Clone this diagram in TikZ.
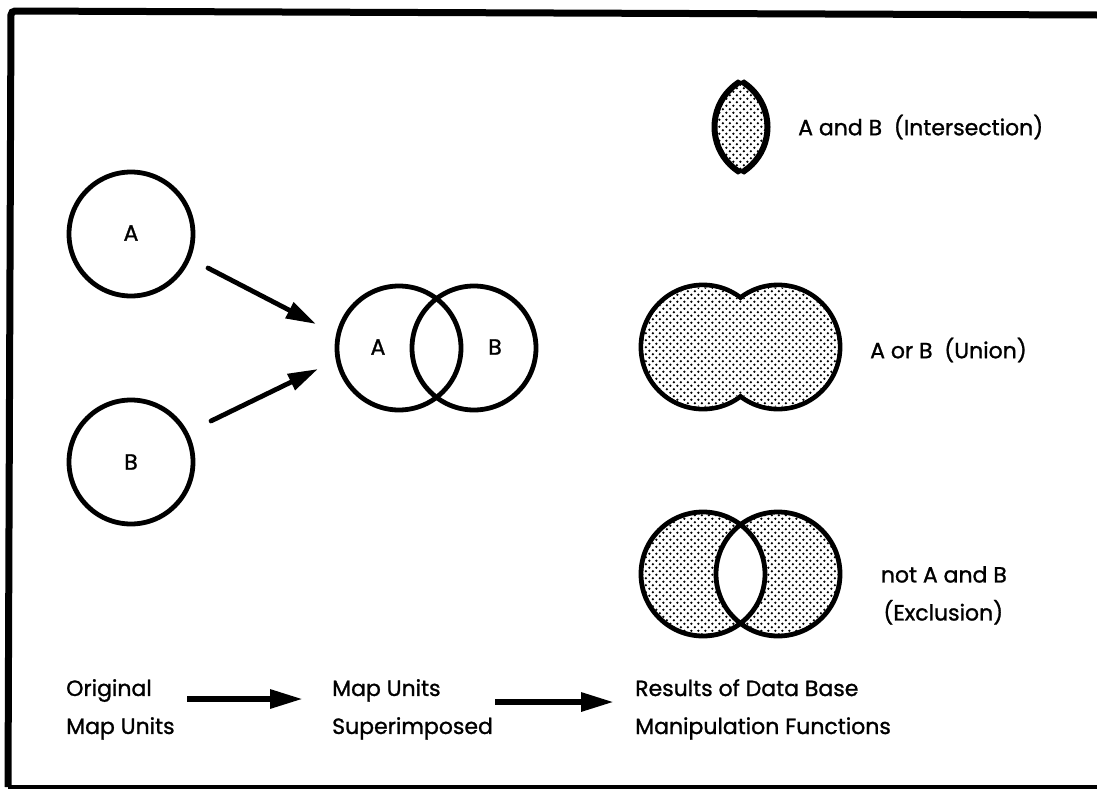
\documentclass[tikz,border=0pt]{standalone}
\usepackage{fontspec}
\setmainfont{Poppins}[FakeBold=1.2]
\usetikzlibrary{arrows.meta,patterns}
\pgfdeclarepatternformonly{stipple}{\pgfpoint{-1.5pt}{-1.5pt}}{\pgfpoint{8.5pt}{8.5pt}}{\pgfpoint{7pt}{7pt}}{%
  \pgfpathcircle{\pgfpoint{1.75pt}{1.75pt}}{1.25pt}%
  \pgfpathcircle{\pgfpoint{5.25pt}{5.25pt}}{1.25pt}%
  \pgfusepath{fill}}
\tikzset{
  ring/.style={draw=black, line width=4.8pt},
  ringnode/.style={circle, draw=black, line width=4.8pt, minimum size=124pt, inner sep=0pt},
  lbl/.style={font=\fontsize{22}{26}\selectfont, inner sep=0pt},
  txt/.style={font=\fontsize{22}{38}\selectfont, inner sep=0pt},
  bigarrow/.style={line width=4.8pt, line cap=round, -{Triangle[length=30pt,width=17pt]}},
  flowarrow/.style={line width=6pt, -{Triangle[length=33pt,width=18pt]}},
  dotted fill/.style={pattern=stipple, pattern color=black}
}
\begin{document}
\begin{tikzpicture}[x=1pt,y=-1pt]
\useasboundingbox (0,0) rectangle (1097,790);
% frame
\draw[line width=7pt, rounded corners=4pt] (1097,15) -- (11,11) -- (8,787);
\draw[line width=4pt] (8,787) -- (1097,787);

% original map units
\node[ringnode] (cA) at (131,234) {};
\node[lbl] (tA) at (131,233) {A};
\node[ringnode] (cB) at (131,462) {};
\node[lbl] (tB) at (131,462) {B};

% arrows to superimposed
\coordinate (a1s) at (208,268);
\coordinate (a1e) at (316,324);
\coordinate (a2s) at (211,421);
\coordinate (a2e) at (318,369);
\draw[bigarrow] (a1s) -- (a1e);
\draw[bigarrow] (a2s) -- (a2e);

% superimposed
\node[ringnode] (vA) at (399,348) {};
\node[ringnode] (vB) at (474,348) {};
\node[lbl] (vtA) at (378,347) {A};
\node[lbl] (vtB) at (495,347) {B};

% intersection (lens)
\begin{scope}
  \clip (714.3,127) circle[radius=53.2pt];
  \fill[dotted fill] (767.7,127) circle[radius=53.2pt];
  \draw[line width=6pt] (767.7,127) circle[radius=53.2pt];
\end{scope}
\begin{scope}
  \clip (767.7,127) circle[radius=53.2pt];
  \draw[line width=6pt] (714.3,127) circle[radius=53.2pt];
\end{scope}
\node[lbl, anchor=west] (tI) at (798,127) {A and B\ \ (Intersection)};

% union
\draw[ring] (703,347) circle[radius=62pt] (778,347) circle[radius=62pt];
\fill[white] (703,347) circle[radius=59.6pt] (778,347) circle[radius=59.6pt];
\fill[dotted fill] (703,347) circle[radius=59.6pt] (778,347) circle[radius=59.6pt];
\node[lbl, anchor=west] (tU) at (870,350) {A or B\ \ (Union)};

% exclusion
\fill[dotted fill, even odd rule] (703,574) circle[radius=62pt] (778,574) circle[radius=62pt];
\draw[ring] (703,574) circle[radius=62pt] (778,574) circle[radius=62pt];
\node[txt, anchor=north east, align=right] (tX) at (1007,566) {not A and B\\(Exclusion)\,};

% bottom row
\node[txt, anchor=north west, align=left] (b1) at (66,679) {Original\\Map Units};
\node[txt, anchor=north west, align=left] (b2) at (332,679) {Map Units\\Superimposed};
\node[txt, anchor=north west, align=left] (b3) at (635,679) {Results of Data Base\\Manipulation Functions};
\coordinate (f1s) at (187,699);
\coordinate (f1e) at (303,699);
\coordinate (f2s) at (495,702);
\coordinate (f2e) at (614,702);
\draw[flowarrow] (f1s) -- (f1e);
\draw[flowarrow] (f2s) -- (f2e);
\end{tikzpicture}
\end{document}
